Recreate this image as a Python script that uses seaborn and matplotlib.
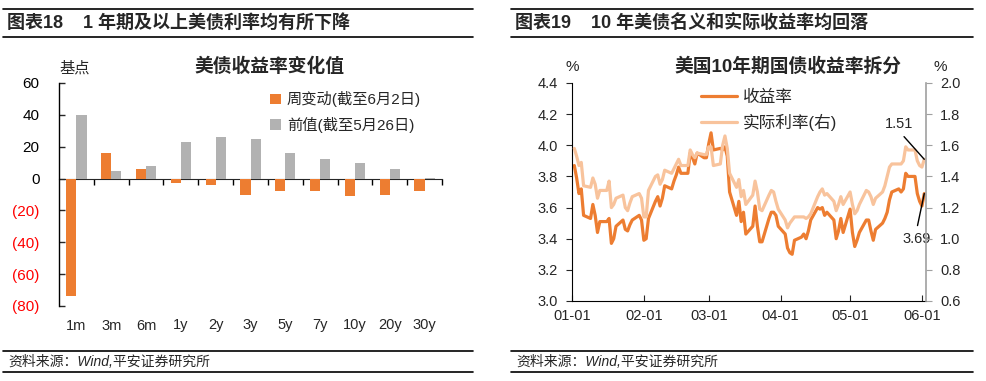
import pandas as pd
import numpy as np
import matplotlib
matplotlib.use('Agg')
import matplotlib.pyplot as plt
import matplotlib.dates as mdates
from matplotlib.lines import Line2D
import seaborn as sns

sns.set_style('white')
plt.rcParams['font.family'] = ['Liberation Sans', 'Noto Sans CJK SC']
plt.rcParams['axes.unicode_minus'] = False

# ---- left chart data ----
tenors = ['1m', '3m', '6m', '1y', '2y', '3y', '5y', '7y', '10y', '20y', '30y']
weekly_chg = [-74, 16, 6, -3, -4, -10, -8, -8, -11, -10, -8]
prev_chg = [40, 5, 8, 23, 26, 25, 16, 12, 10, 6, 0.5]
bar_yticks = [60, 40, 20, 0, -20, -40, -60, -80]
bar_ylabels = ['60', '40', '20', '0', '(20)', '(40)', '(60)', '(80)']
series_names = ['周变动(截至6月2日)', '前值(截至5月26日)']

# ---- right chart data (business days 2023-01-02 .. 2023-06-02) ----
nominal = [3.87, 3.79, 3.69, 3.72, 3.55, 3.53, 3.62, 3.55, 3.44, 3.51,
           3.51, 3.53, 3.37, 3.40, 3.48, 3.52, 3.46, 3.45, 3.49, 3.52,
           3.55, 3.52, 3.39, 3.40, 3.53, 3.64, 3.67, 3.61, 3.66, 3.74,
           3.72, 3.77, 3.81, 3.86, 3.82, 3.82, 3.95, 3.92, 3.88, 3.95,
           3.92, 3.92, 4.01, 4.08, 3.97, 3.98, 3.97, 3.99, 3.93, 3.70,
           3.55, 3.64, 3.51, 3.57, 3.43, 3.48, 3.61, 3.48, 3.38, 3.38,
           3.53, 3.57, 3.57, 3.55, 3.48, 3.43, 3.34, 3.31, 3.30, 3.39,
           3.41, 3.43, 3.40, 3.45, 3.52, 3.60, 3.59, 3.60, 3.55, 3.57,
           3.52, 3.40, 3.45, 3.53, 3.44, 3.59, 3.44, 3.35, 3.39, 3.44,
           3.52, 3.52, 3.45, 3.39, 3.46, 3.50, 3.53, 3.57, 3.65, 3.70,
           3.72, 3.70, 3.72, 3.82, 3.80, 3.80, 3.69, 3.64, 3.61, 3.69]
real = [1.58, 1.53, 1.47, 1.49, 1.34, 1.33, 1.39, 1.35, 1.26, 1.31,
        1.31, 1.37, 1.20, 1.22, 1.26, 1.28, 1.20, 1.18, 1.23, 1.27,
        1.29, 1.26, 1.14, 1.14, 1.31, 1.40, 1.41, 1.35, 1.38, 1.44,
        1.42, 1.45, 1.48, 1.51, 1.47, 1.47, 1.57, 1.54, 1.52, 1.55,
        1.54, 1.54, 1.59, 1.59, 1.47, 1.48, 1.60, 1.66, 1.58, 1.42,
        1.33, 1.38, 1.27, 1.31, 1.22, 1.28, 1.37, 1.30, 1.19, 1.18,
        1.28, 1.31, 1.30, 1.24, 1.19, 1.12, 1.07, 1.10, 1.12, 1.14,
        1.14, 1.14, 1.13, 1.14, 1.16, 1.27, 1.30, 1.32, 1.28, 1.29,
        1.24, 1.18, 1.22, 1.27, 1.22, 1.30, 1.22, 1.16, 1.18, 1.22,
        1.31, 1.30, 1.27, 1.22, 1.26, 1.30, 1.34, 1.40, 1.46, 1.48,
        1.48, 1.48, 1.50, 1.59, 1.57, 1.57, 1.50, 1.47, 1.46, 1.51]
dates = pd.bdate_range('2023-01-02', '2023-06-02')
line_names = ['收益率', '实际利率(右)']

ORANGE = '#ED7D31'
GRAY = '#B2B2B2'
LIGHT = '#F8C39C'

W, H = 986, 381
fig = plt.figure(figsize=(W / 100, H / 100), dpi=100, facecolor='white')


def box(l, t, r, b):
    return [l / W, (H - b) / H, (r - l) / W, (b - t) / H]


def hline(x0, x1, y, lw=1.2):
    fig.add_artist(Line2D([x0 / W, x1 / W], [(H - y) / H] * 2, color='black', lw=lw))


# header / footer rules and texts
for x0, x1 in [(3, 473), (511, 973)]:
    hline(x0, x1, 9)
    hline(x0, x1, 37)
    hline(x0, x1, 351)
    hline(x0, x1, 372)
fig.text(7 / W, (H - 23) / H, '图表18    1 年期及以上美债利率均有所下降', fontsize=13,
         fontweight='bold', va='center', ha='left')
fig.text(515 / W, (H - 23) / H, '图表19    10 年美债名义和实际收益率均回落', fontsize=13,
         fontweight='bold', va='center', ha='left')
for x in [8, 516]:
    fig.text(x / W, (H - 362) / H, '资料来源：Wind,平安证券研究所', fontsize=10,
             style='italic', va='center', ha='left')

# ---------------- left: bar chart ----------------
ax = fig.add_axes(box(59, 83, 442, 306))
df = pd.DataFrame({
    'tenor': tenors * 2,
    'value': weekly_chg + prev_chg,
    'series': [series_names[0]] * len(tenors) + [series_names[1]] * len(tenors),
})
sns.barplot(data=df, x='tenor', y='value', hue='series', palette=[ORANGE, GRAY],
            width=0.58, ax=ax, saturation=1, edgecolor='none')
ax.set_xlim(-0.5, len(tenors) - 0.5)
ax.set_ylim(-80, 60)
ax.set_xlabel('')
ax.set_ylabel('')
for s in ['top', 'right', 'bottom']:
    ax.spines[s].set_visible(False)
ax.spines['left'].set_color('black')
ax.spines['left'].set_linewidth(1)
ax.set_yticks(bar_yticks, labels=bar_ylabels)
for lab, v in zip(ax.get_yticklabels(), bar_yticks):
    lab.set_color('#FF0000' if v < 0 else 'black')
ax.tick_params(axis='y', direction='in', length=4, width=1, labelsize=11, pad=14, left=True)
ax.tick_params(axis='x', length=0, labelsize=10.5, pad=9)
zero_ax = ax.secondary_xaxis(80 / 140)
zero_ax.set_xticks(np.arange(0.5, len(tenors), 1.0))
zero_ax.set_xticklabels([])
zero_ax.tick_params(direction='in', length=4, width=1, color='black')
zero_ax.spines['bottom'].set_color('black')
zero_ax.spines['bottom'].set_linewidth(1)
ax.text(0.0, 1.065, '基点', transform=ax.transAxes, fontsize=11, ha='left', va='center')
ax.set_title('美债收益率变化值', fontsize=13.5, fontweight='bold', pad=8, x=0.55)
h, l = ax.get_legend_handles_labels()
ax.legend(h, l, loc='upper left', bbox_to_anchor=(0.535, 0.99), frameon=False,
          fontsize=11, handlelength=0.7, handleheight=0.7, handletextpad=0.4,
          labelspacing=0.6, borderaxespad=0)

# ---------------- right: line chart ----------------
ax3 = fig.add_axes(box(572, 83, 926, 301))
sns.lineplot(x=dates, y=nominal, ax=ax3, color=ORANGE, lw=2.3, label=line_names[0], legend=False)
ax4 = ax3.twinx()
sns.lineplot(x=dates, y=real, ax=ax4, color=LIGHT, lw=2.3, label=line_names[1], legend=False)
ax3.set_ylim(3.0, 4.4)
ax4.set_ylim(0.6, 2.0)
ax3.set_yticks(np.arange(3.0, 4.41, 0.2))
ax4.set_yticks(np.arange(0.6, 2.01, 0.2))
ax3.yaxis.set_major_formatter(matplotlib.ticker.FormatStrFormatter('%.1f'))
ax4.yaxis.set_major_formatter(matplotlib.ticker.FormatStrFormatter('%.1f'))
ax3.set_xlim(pd.Timestamp('2023-01-01'), pd.Timestamp('2023-06-02 18:00'))
ax3.xaxis.set_major_locator(mdates.MonthLocator())
ax3.xaxis.set_major_formatter(mdates.DateFormatter('%m-%d'))
ax3.set_xlabel('')
ax3.set_ylabel('')
ax4.set_ylabel('')
for a in (ax3, ax4):
    a.spines['top'].set_visible(False)
ax3.spines['right'].set_visible(False)
ax4.spines['left'].set_visible(False)
ax4.spines['bottom'].set_visible(False)
ax3.spines['left'].set_color('black')
ax3.spines['bottom'].set_color('black')
ax4.spines['right'].set_color('#A0A0A0')
ax4.spines['right'].set_linewidth(1.2)
ax3.tick_params(axis='y', direction='out', length=4, labelsize=10.5, left=True, pad=6)
ax4.tick_params(axis='y', direction='out', length=4, labelsize=10.5, right=True, color='#A0A0A0', pad=6)
ax3.tick_params(axis='x', direction='in', length=4, labelsize=10.5, bottom=True, pad=6)
ax3.text(0.0, 1.075, '%', transform=ax3.transAxes, fontsize=11, ha='center', va='center')
ax3.text(1.04, 1.075, '%', transform=ax3.transAxes, fontsize=11, ha='center', va='center')
ax3.set_title('美国10年期国债收益率拆分', fontsize=13.5, fontweight='bold', pad=8, x=0.61)
h1, l1 = ax3.get_legend_handles_labels()
h2, l2 = ax4.get_legend_handles_labels()
ax4.legend(h1 + h2, l1 + l2, loc='upper left', bbox_to_anchor=(0.345, 1.0), frameon=False,
           fontsize=12, handlelength=2.2, handletextpad=0.3, labelspacing=0.55, borderaxespad=0)

ax4.annotate(f'{real[-1]:.2f}', xy=(dates[-1], real[-1]), xytext=(-25, 35),
             textcoords='offset pixels', fontsize=10.5, ha='center', va='center',
             arrowprops=dict(arrowstyle='-', color='black', lw=1, relpos=(0.5, 0), shrinkA=2, shrinkB=0))
ax3.annotate(f'{nominal[-1]:.2f}', xy=(dates[-1], nominal[-1]), xytext=(-8, -45),
             textcoords='offset pixels', fontsize=10.5, ha='center', va='center',
             arrowprops=dict(arrowstyle='-', color='black', lw=1, relpos=(0.5, 1), shrinkA=2, shrinkB=0))

fig.savefig('out.png', dpi=100, facecolor='white')
